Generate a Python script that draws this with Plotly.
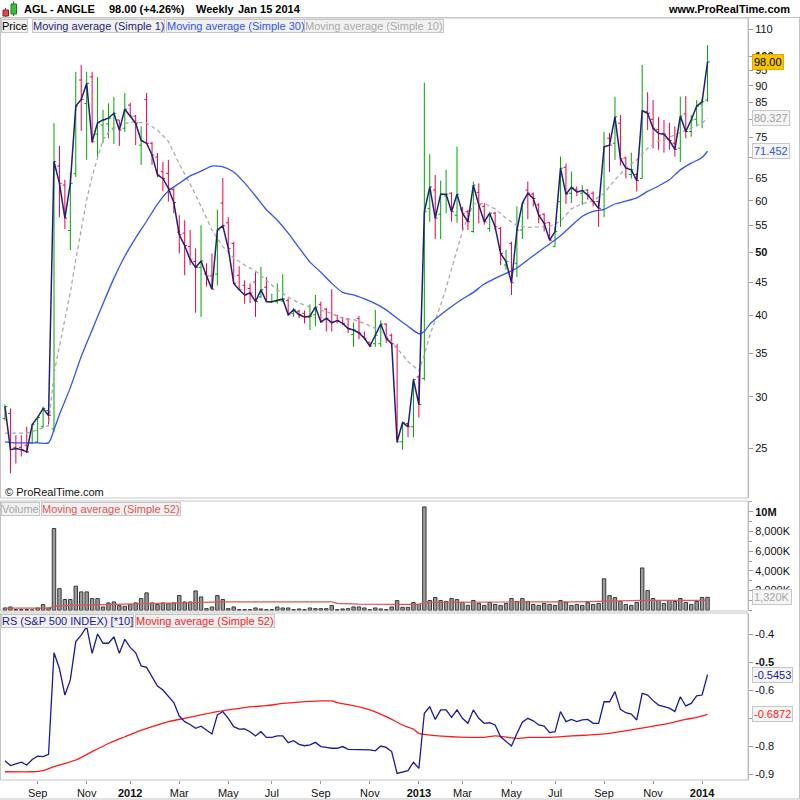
import math
import pandas as pd
import plotly.graph_objects as go

# ---------------- data ----------------
dates = pd.date_range(end="2014-01-13", periods=130, freq="W-MON")

price_open = [27.8, 28.3, 25.1, 25.1, 25.3, 25.5, 25.6, 27.0, 28.6, 26.8,
              67.8, 63.4, 54.0, 66.0, 91.9, 84.6, 92.9, 75.9, 78.4, 78.7,
              77.5, 79.8, 77.5, 84.1, 80.9, 73.0, 85.8, 73.5, 70.0, 66.5,
              66.1, 62.4, 53.7, 53.5, 51.0, 48.4, 47.4, 46.3, 46.0, 46.3,
              59.5, 55.5, 51.6, 46.1, 44.5, 44.0, 45.0, 42.7, 44.2, 41.9,
              42.0, 42.1, 42.2, 40.3, 40.6, 40.3, 39.7, 40.1, 41.6, 40.9,
              39.1, 40.0, 39.7, 39.5, 37.4, 39.6, 37.1, 36.4, 36.2, 36.2,
              38.8, 37.3, 35.8, 25.6, 27.3, 27.0, 32.2, 32.0, 58.4, 62.3,
              57.2, 61.0, 61.6, 57.0, 58.1, 57.7, 53.8, 61.8, 58.8, 54.4,
              57.4, 54.4, 47.8, 51.6, 48.1, 54.1, 62.3, 61.4, 59.1, 57.2,
              55.5, 51.0, 59.8, 67.5, 61.6, 62.5, 61.6, 62.3, 61.6, 59.8,
              58.1, 74.8, 73.5, 78.9, 69.8, 65.8, 65.8, 64.9, 82.2, 80.0,
              77.2, 76.1, 74.6, 73.5, 72.2, 81.5, 76.6, 80.0, 84.4, 85.6]
price_high = [29.2, 28.8, 26.2, 26.2, 27.0, 27.3, 27.9, 29.0, 29.0, 78.9,
              72.8, 64.6, 66.3, 94.6, 96.9, 94.6, 94.6, 92.9, 82.7, 84.6,
              86.6, 79.8, 87.8, 84.8, 81.2, 78.0, 87.8, 73.9, 71.0, 68.8,
              69.3, 62.7, 57.0, 56.0, 54.1, 50.7, 55.0, 48.1, 49.8, 58.1,
              65.0, 56.6, 51.9, 47.6, 45.3, 44.8, 46.6, 47.5, 45.8, 43.2,
              44.8, 46.3, 42.5, 41.1, 40.8, 40.7, 41.6, 43.0, 42.0, 41.1,
              43.9, 40.1, 39.8, 39.6, 39.0, 39.9, 37.8, 36.4, 40.8, 39.3,
              38.9, 37.5, 36.2, 27.4, 27.4, 32.0, 32.4, 91.0, 70.7, 65.7,
              64.4, 66.9, 61.8, 72.6, 58.7, 58.1, 64.2, 63.8, 59.5, 57.7,
              57.7, 54.7, 50.4, 51.9, 58.8, 59.5, 64.2, 61.8, 59.5, 57.4,
              55.7, 54.7, 70.1, 68.4, 66.5, 63.1, 63.4, 62.5, 62.0, 60.0,
              76.5, 76.2, 86.6, 81.2, 70.1, 71.1, 66.1, 96.9, 88.0, 85.6,
              80.6, 79.8, 79.0, 78.0, 86.6, 86.8, 81.2, 85.6, 86.1, 104.0]
price_low = [27.6, 22.9, 23.7, 24.3, 24.6, 25.4, 25.5, 26.9, 27.2, 26.5,
             56.6, 54.3, 50.4, 65.2, 76.8, 69.3, 73.5, 70.1, 73.5, 74.8,
             73.3, 72.8, 76.5, 80.9, 73.0, 68.1, 73.5, 68.1, 65.2, 62.0,
             59.8, 57.4, 49.8, 46.1, 47.8, 40.4, 39.8, 44.3, 43.9, 44.5,
             54.9, 50.4, 44.8, 43.8, 41.7, 41.8, 39.8, 42.5, 42.0, 41.9,
             41.7, 42.0, 40.0, 39.8, 39.6, 38.9, 38.0, 38.5, 39.0, 37.8,
             37.8, 38.9, 38.7, 37.6, 35.8, 36.8, 36.7, 35.8, 35.8, 35.8,
             36.3, 35.8, 25.5, 24.9, 26.0, 26.0, 27.9, 31.8, 55.7, 52.4,
             52.4, 57.4, 55.7, 55.5, 54.1, 54.1, 53.6, 55.4, 55.1, 53.8,
             54.1, 47.8, 47.0, 43.0, 45.8, 52.4, 56.2, 58.8, 55.4, 53.8,
             52.1, 51.0, 54.7, 59.3, 59.5, 61.0, 59.1, 60.2, 58.8, 54.7,
             56.6, 66.4, 69.3, 67.9, 64.9, 64.9, 62.0, 64.9, 77.0, 72.2,
             71.8, 71.1, 71.8, 70.1, 68.8, 74.8, 75.2, 78.0, 77.5, 85.1]
price_close = [29.0, 24.9, 25.0, 24.9, 24.7, 27.2, 27.9, 28.8, 28.1, 68.9,
               63.8, 56.4, 63.8, 83.8, 85.8, 90.8, 73.9, 79.0, 79.8, 80.3,
               81.7, 77.0, 82.9, 80.9, 78.9, 74.2, 73.5, 70.5, 65.7, 64.9,
               62.7, 59.6, 53.2, 51.2, 48.7, 47.4, 48.5, 46.0, 43.9, 54.1,
               54.9, 50.7, 44.8, 43.8, 43.0, 43.3, 42.0, 43.8, 42.0, 42.0,
               42.2, 42.4, 40.1, 40.8, 40.1, 39.8, 39.9, 41.2, 39.1, 39.6,
               39.0, 39.3, 38.9, 38.2, 38.0, 37.6, 36.9, 35.9, 37.3, 38.8,
               36.9, 36.2, 25.6, 27.4, 27.0, 31.9, 29.2, 57.7, 63.0, 56.4,
               61.4, 61.4, 57.7, 61.4, 57.4, 55.7, 63.4, 59.1, 55.7, 57.4,
               54.7, 49.8, 48.4, 44.9, 54.1, 59.5, 61.6, 60.5, 57.0, 55.4,
               52.2, 53.8, 67.3, 61.4, 62.9, 61.9, 62.2, 61.2, 59.8, 58.4,
               72.6, 73.0, 80.7, 69.6, 67.3, 66.9, 64.4, 82.4, 81.7, 77.5,
               76.1, 75.9, 74.2, 71.9, 80.9, 76.6, 79.8, 83.8, 85.1, 98.0]

ma30_bars = [0, 2, 4, 6, 8, 9, 10, 12, 14, 16, 18, 20, 22, 24, 26, 28, 30, 32, 34, 36,
             38, 40, 42, 44, 46, 48, 50, 52, 54, 56, 58, 60, 62, 64, 66, 68, 70, 72, 74, 76,
             77, 78, 80, 82, 84, 86, 88, 90, 92, 94, 96, 98, 100, 102, 104, 106, 108, 110,
             112, 114, 116, 118, 120, 122, 124, 126, 128, 129]
ma30_values = [25.6, 25.5, 25.5, 25.5, 25.5, 26.7, 28.2, 31.0, 34.6, 38.0, 41.7, 45.6, 49.3,
               52.6, 55.8, 59.3, 62.1, 63.8, 65.5, 66.6, 67.8, 67.6, 66.4, 63.9, 61.0, 58.1,
               56.0, 53.5, 50.8, 48.3, 46.6, 44.8, 43.4, 43.0, 42.4, 41.7, 40.8, 39.6, 38.5,
               37.5, 37.8, 38.8, 40.1, 41.3, 42.4, 43.4, 44.7, 45.6, 46.4, 47.3, 48.7, 50.1,
               51.5, 53.0, 54.9, 56.8, 57.8, 58.2, 59.3, 59.9, 60.6, 62.0, 63.2, 64.6, 66.9,
               68.5, 69.9, 71.452]

ma10_bars = [0, 2, 4, 6, 8, 9, 10, 11, 12, 13, 14, 15, 16, 17, 18, 19, 20, 22, 24, 26, 28,
             30, 32, 34, 36, 37, 38, 40, 42, 44, 46, 48, 50, 52, 54, 56, 58, 60, 62, 64, 66,
             68, 70, 72, 74, 76, 77, 78, 79, 80, 81, 82, 83, 84, 86, 88, 90, 92, 94, 96, 98,
             100, 102, 104, 106, 108, 110, 112, 114, 116, 118, 120, 122, 124, 126, 128, 129]
ma10_values = [26.4, 26.4, 26.4, 26.7, 27.1, 32.6, 36.0, 39.5, 43.4, 48.7, 54.5, 60.2, 65.4,
               69.6, 74.4, 76.4, 77.4, 78.9, 79.2, 78.9, 77.0, 74.0, 68.3, 63.7, 59.0, 56.5,
               54.1, 51.0, 49.0, 47.8, 46.8, 45.3, 43.8, 42.7, 41.8, 41.2, 40.8, 40.3, 39.6,
               39.4, 38.9, 38.2, 37.3, 35.6, 34.0, 32.9, 34.8, 37.3, 39.2, 41.5, 44.1, 47.2,
               50.7, 53.9, 59.3, 59.4, 58.3, 56.4, 55.0, 54.6, 54.7, 54.8, 55.8, 58.3, 59.4,
               59.9, 61.6, 64.6, 67.3, 69.3, 72.2, 74.1, 75.1, 76.2, 77.5, 78.9, 80.327]

volume_m = [0.24, 0.34, 0.07, 0.07, 0.07, 0.05, 0.24, 0.58, 0.24, 8.3,
            2.2, 1.1, 1.1, 2.45, 1.87, 1.87, 1.19, 1.19, 0.34, 0.75,
            0.85, 0.48, 0.41, 0.58, 0.75, 1.19, 1.77, 0.75, 0.58, 0.75,
            0.68, 0.75, 1.5, 0.85, 0.85, 1.97, 1.36, 0.17, 0.34, 1.5,
            1.1, 0.17, 0.34, 0.07, 0.07, 0.07, 0.24, 0.14, 0.07, 0.07,
            0.34, 0.24, 0.24, 0.07, 0.14, 0.07, 0.24, 0.17, 0.17, 0.17,
            0.48, 0.07, 0.14, 0.17, 0.34, 0.34, 0.24, 0.07, 0.24, 0.14,
            0.07, 0.34, 0.99, 0.3, 0.3, 0.8, 0.6, 10.5, 1.0, 1.3,
            1.0, 0.9, 1.2, 1.1, 0.8, 0.5, 1.0, 0.7, 0.5, 0.8,
            0.6, 0.5, 0.7, 1.2, 0.9, 1.2, 0.9, 0.6, 0.5, 0.7,
            0.6, 0.5, 1.0, 0.8, 0.5, 0.6, 0.5, 0.8, 0.6, 0.7,
            3.2, 1.5, 1.3, 0.9, 0.6, 0.5, 0.8, 4.3, 2.0, 1.2,
            1.0, 0.7, 1.0, 0.9, 1.2, 0.8, 0.6, 0.9, 1.3, 1.32]

vol_ma_bars = [0, 8, 9, 12, 16, 20, 24, 30, 36, 40, 50, 60, 61, 65, 72, 76, 77, 85, 95,
               105, 110, 117, 125, 129]
vol_ma_values = [0.23, 0.23, 0.4, 0.5, 0.55, 0.6, 0.63, 0.7, 0.78, 0.85, 0.85, 0.85, 0.7,
                 0.62, 0.6, 0.6, 0.8, 0.85, 0.85, 0.85, 0.9, 1.0, 1.0, 1.0]

rs_values = [-0.853, -0.870, -0.864, -0.858, -0.868, -0.848, -0.836, -0.838, -0.830, -0.467,
             -0.523, -0.618, -0.564, -0.427, -0.404, -0.374, -0.469, -0.400, -0.433, -0.433,
             -0.410, -0.469, -0.419, -0.448, -0.467, -0.514, -0.519, -0.552, -0.586, -0.600,
             -0.621, -0.645, -0.693, -0.713, -0.723, -0.737, -0.729, -0.743, -0.757, -0.689,
             -0.677, -0.701, -0.731, -0.740, -0.739, -0.749, -0.764, -0.749, -0.769, -0.769,
             -0.764, -0.764, -0.788, -0.781, -0.794, -0.799, -0.796, -0.787, -0.802, -0.805,
             -0.808, -0.808, -0.802, -0.812, -0.812, -0.812, -0.812, -0.814, -0.817, -0.800,
             -0.805, -0.820, -0.898, -0.892, -0.888, -0.858, -0.880, -0.683, -0.660, -0.705,
             -0.671, -0.671, -0.698, -0.671, -0.701, -0.719, -0.671, -0.701, -0.719, -0.717,
             -0.725, -0.767, -0.785, -0.800, -0.755, -0.715, -0.701, -0.710, -0.725, -0.729,
             -0.752, -0.749, -0.677, -0.713, -0.705, -0.713, -0.707, -0.705, -0.719, -0.719,
             -0.642, -0.642, -0.606, -0.669, -0.681, -0.686, -0.707, -0.612, -0.618, -0.638,
             -0.654, -0.660, -0.665, -0.677, -0.624, -0.657, -0.648, -0.621, -0.618, -0.5453]

rs_ma_bars = [0, 5, 7, 9, 13, 16, 19, 22, 24, 27, 30, 33, 36, 39, 42, 45, 48, 51, 54, 58,
              60, 61, 65, 67, 70, 73, 75, 76, 79, 82, 85, 88, 90, 94, 96, 100, 104, 107,
              110, 113, 116, 119, 122, 125, 127, 129]
rs_ma_values = [-0.892, -0.892, -0.888, -0.874, -0.850, -0.820, -0.791, -0.767, -0.751,
                -0.731, -0.713, -0.701, -0.689, -0.677, -0.668, -0.660, -0.656, -0.648,
                -0.643, -0.639, -0.639, -0.645, -0.660, -0.671, -0.695, -0.725, -0.740,
                -0.755, -0.763, -0.767, -0.769, -0.769, -0.764, -0.773, -0.769, -0.769,
                -0.764, -0.761, -0.757, -0.749, -0.739, -0.729, -0.719, -0.705, -0.698,
                -0.6872]

tick_months = [(2011, 9), (2011, 11), (2012, 1), (2012, 3), (2012, 5), (2012, 7), (2012, 9),
               (2012, 11), (2013, 1), (2013, 3), (2013, 5), (2013, 7), (2013, 9), (2013, 11),
               (2014, 1)]
tick_labels = ["Sep", "Nov", "<b>2012</b>", "Mar", "May", "Jul", "Sep", "Nov", "<b>2013</b>",
               "Mar", "May", "Jul", "Sep", "Nov", "<b>2014</b>"]

price_ticks = [110, 100, 95, 90, 85, 80, 75, 70, 65, 60, 55, 50, 45, 40, 35, 30, 25]
price_tick_text = ["110", "<b>100</b>", "95", "90", "85", "", "75", "", "65", "60", "55",
                   "<b>50</b>", "45", "40", "35", "30", "25"]
vol_ticks = [2e6, 4e6, 6e6, 8e6, 10e6]
vol_tick_text = ["2,000K", "4,000K", "6,000K", "8,000K", "<b>10M</b>"]
rs_ticks = [-0.4, -0.5, -0.6, -0.7, -0.8, -0.9]
rs_tick_text = ["-0.4", "<b>-0.5</b>", "-0.6", "", "-0.8", "-0.9"]

# ---------------- styling / layout helpers ----------------
FONT = "Liberation Sans, Arial, sans-serif"
W = H = 800
GREEN = "#00a400"
RED = "#ec0040"
NAVY = "#1f1f78"
BLUE = "#2f55f2"
GRAY_MA = "#ababab"
FRAME = "#c4c4c4"


def px(x):
    return x / W


def py(y):
    return 1 - y / H


XR = [dates[0] - pd.Timedelta(days=6.4), dates[-1] + pd.Timedelta(days=52)]
XDOM = [0, px(748)]

tickvals = [dates[(dates.year == yy) & (dates.month == mm)][0] for yy, mm in tick_months]

fig = go.Figure()

# price panel
fig.add_trace(go.Ohlc(x=dates, open=price_open, high=price_high, low=price_low,
                      close=price_close, xaxis="x", yaxis="y", tickwidth=0.42,
                      increasing=dict(line=dict(color=GREEN, width=1)),
                      decreasing=dict(line=dict(color=RED, width=1)),
                      hoverinfo="skip"))
fig.add_trace(go.Scatter(x=dates[ma10_bars], y=ma10_values, mode="lines", xaxis="x", yaxis="y",
                         line=dict(color=GRAY_MA, width=1.3, dash="4px,3px")))
fig.add_trace(go.Scatter(x=dates[ma30_bars], y=ma30_values, mode="lines", xaxis="x", yaxis="y",
                         line=dict(color=BLUE, width=1.3, shape="spline", smoothing=0.6)))
fig.add_trace(go.Scatter(x=dates, y=price_close, mode="lines", xaxis="x", yaxis="y",
                         line=dict(color=NAVY, width=1.5)))

# volume panel
fig.add_trace(go.Bar(x=dates, y=[v * 1e6 for v in volume_m], xaxis="x2", yaxis="y2",
                     width=4.4 * 86400000,
                     marker=dict(color="#9c9c9c", line=dict(color="#383838", width=1))))
fig.add_trace(go.Scatter(x=dates[vol_ma_bars], y=[v * 1e6 for v in vol_ma_values], mode="lines",
                         xaxis="x2", yaxis="y2", line=dict(color="#e05555", width=1.2)))

# RS panel
fig.add_trace(go.Scatter(x=dates[rs_ma_bars], y=rs_ma_values, mode="lines", xaxis="x3", yaxis="y3",
                         line=dict(color="#ff1a1a", width=1.3, shape="spline", smoothing=0.5)))
fig.add_trace(go.Scatter(x=dates, y=rs_values, mode="lines", xaxis="x3", yaxis="y3",
                         line=dict(color="#1a1a9a", width=1.3)))

axis_common = dict(showgrid=False, zeroline=False, ticks="outside", ticklen=4,
                   tickcolor="#9a9a9a", showline=True, linecolor="#b4b4b4", linewidth=1,
                   tickfont=dict(family=FONT, size=11, color="#111"))

fig.update_layout(
    width=W, height=H, margin=dict(l=0, r=0, t=0, b=0),
    paper_bgcolor="white", plot_bgcolor="white", showlegend=False,
    font=dict(family=FONT, size=11, color="#111"),
    xaxis=dict(domain=XDOM, range=XR, type="date", anchor="y", showticklabels=False,
               showgrid=False, zeroline=False, showline=False, ticks="",
               rangeslider=dict(visible=False)),
    xaxis2=dict(domain=XDOM, range=XR, type="date", anchor="y2", showticklabels=False,
                showgrid=False, zeroline=False, showline=False, ticks=""),
    xaxis3=dict(domain=XDOM, range=XR, type="date", anchor="y3", tickvals=tickvals,
                ticktext=tick_labels, showgrid=False, zeroline=False, showline=False,
                ticks="outside", ticklen=3, tickcolor="#9a9a9a",
                tickfont=dict(family=FONT, size=11, color="#111")),
    yaxis=dict(domain=[py(498), py(18)], type="log", anchor="x", side="right",
               range=[math.log10(20.99), math.log10(114.4)],
               tickvals=price_ticks, ticktext=price_tick_text, **axis_common),
    yaxis2=dict(domain=[py(611), py(501)], anchor="x2", side="right",
                range=[-0.07e6, 11.1e6], tickvals=vol_ticks, ticktext=vol_tick_text,
                minor=dict(dtick=1e6, ticklen=3, tickcolor="#9a9a9a", ticks="outside"),
                **axis_common),
    yaxis3=dict(domain=[py(780), py(613)], anchor="x3", side="right",
                range=[-0.9214, -0.325], tickvals=rs_ticks, ticktext=rs_tick_text,
                **axis_common),
)

# frames
shapes = []
for (y0, y1) in [(18, 498), (501, 611), (613, 780)]:
    shapes.append(dict(type="rect", xref="paper", yref="paper", x0=px(0.5), x1=px(748),
                       y0=py(y1), y1=py(y0), line=dict(color=FRAME, width=1)))
shapes.append(dict(type="line", xref="paper", yref="paper", x0=0, x1=1, y0=py(17.5), y1=py(17.5),
                   line=dict(color=FRAME, width=1)))
shapes.append(dict(type="line", xref="paper", yref="paper", x0=0, x1=1, y0=py(799), y1=py(799),
                   line=dict(color=FRAME, width=1)))
shapes.append(dict(type="line", xref="paper", yref="paper", x0=px(799.5), x1=px(799.5),
                   y0=py(799), y1=py(17.5), line=dict(color=FRAME, width=1)))
# small header logo (two candles)
shapes.append(dict(type="line", xref="paper", yref="paper", x0=px(5.5), x1=px(5.5),
                   y0=py(17), y1=py(8), line=dict(color="#b03030", width=1)))
shapes.append(dict(type="rect", xref="paper", yref="paper", x0=px(3), x1=px(8.5),
                   y0=py(16), y1=py(10), fillcolor="#e04a4a", line=dict(color="#902020", width=1)))
shapes.append(dict(type="line", xref="paper", yref="paper", x0=px(13.5), x1=px(13.5),
                   y0=py(16), y1=py(1.5), line=dict(color="#208020", width=1)))
shapes.append(dict(type="rect", xref="paper", yref="paper", x0=px(11), x1=px(16.5),
                   y0=py(14), y1=py(4), fillcolor="#36c436", line=dict(color="#1a7a1a", width=1)))
fig.update_layout(shapes=shapes)

ann = []


def text(x, y, s, size=11, color="#111", anchor="left", bold=False, **kw):
    ann.append(dict(xref="paper", yref="paper", x=px(x), y=py(y), text=("<b>%s</b>" % s) if bold else s,
                    showarrow=False, xanchor=anchor, yanchor="middle",
                    font=dict(family=FONT, size=size, color=color), **kw))


# header
text(22, 9.5, "AGL - ANGLE", 11, "#000", bold=True)
text(107, 9.5, "98.00 (+4.26%)", 11, "#000", bold=True)
text(194, 9.5, "Weekly", 11, "#000", bold=True)
text(236, 9.5, "Jan 15 2014", 11, "#000", bold=True)
text(792, 9.5, "www.ProRealTime.com", 11, "#000", anchor="right", bold=True)


def legend_box(x, y, s, color):
    ann.append(dict(xref="paper", yref="paper", x=px(x), y=py(y), text=s, showarrow=False,
                    xanchor="left", yanchor="top", bgcolor="#f1f1f1", bordercolor="#c6c6c6",
                    borderwidth=1, borderpad=0, font=dict(family=FONT, size=11, color=color)))


legend_box(0.5, 19, "Price", "#000")
legend_box(31.5, 19, "Moving average (Simple 1)", NAVY)
legend_box(165.5, 19, "Moving average (Simple 30)", BLUE)
legend_box(304, 19, "Moving average (Simple 10)", GRAY_MA)
legend_box(0.5, 502, "Volume", "#a8a8a8")
legend_box(41, 502, "Moving average (Simple 52)", "#e05555")
legend_box(0.5, 614, "RS (S&P 500 INDEX) [*10]", "#1a1a9a")
legend_box(135, 614, "Moving average (Simple 52)", "#ff1a1a")

text(3, 492, "© ProRealTime.com", 11, "#111")


def value_box(yref, yval, s, color, bg, border):
    ann.append(dict(xref="paper", yref=yref, x=px(752), y=yval, text=s, showarrow=False,
                    xanchor="left", yanchor="middle", bgcolor=bg, bordercolor=border,
                    borderwidth=1, borderpad=1, font=dict(family=FONT, size=11, color=color)))


value_box("y", math.log10(price_close[-1]), "98.00", "#000", "#f7c400", "#dcae00")
value_box("y", math.log10(ma10_values[-1]), "80.327", "#a0a0a0", "#f5f5f5", "#c6c6c6")
value_box("y", math.log10(ma30_values[-1]), "71.452", BLUE, "#f5f5f5", "#c6c6c6")
value_box("y2", volume_m[-1] * 1e6, "1,320K", "#a8a8a8", "#f5f5f5", "#c6c6c6")
value_box("y3", rs_values[-1], "-0.5453", "#1a1a9a", "#f5f5f5", "#c6c6c6")
value_box("y3", rs_ma_values[-1], "-0.6872", "#ff1a1a", "#f5f5f5", "#c6c6c6")

fig.update_layout(annotations=ann)
fig.write_html("out.html", config={"displayModeBar": False},
               post_script="document.body.style.margin='0';document.body.style.padding='0';"
                           "document.body.style.overflow='hidden';")
